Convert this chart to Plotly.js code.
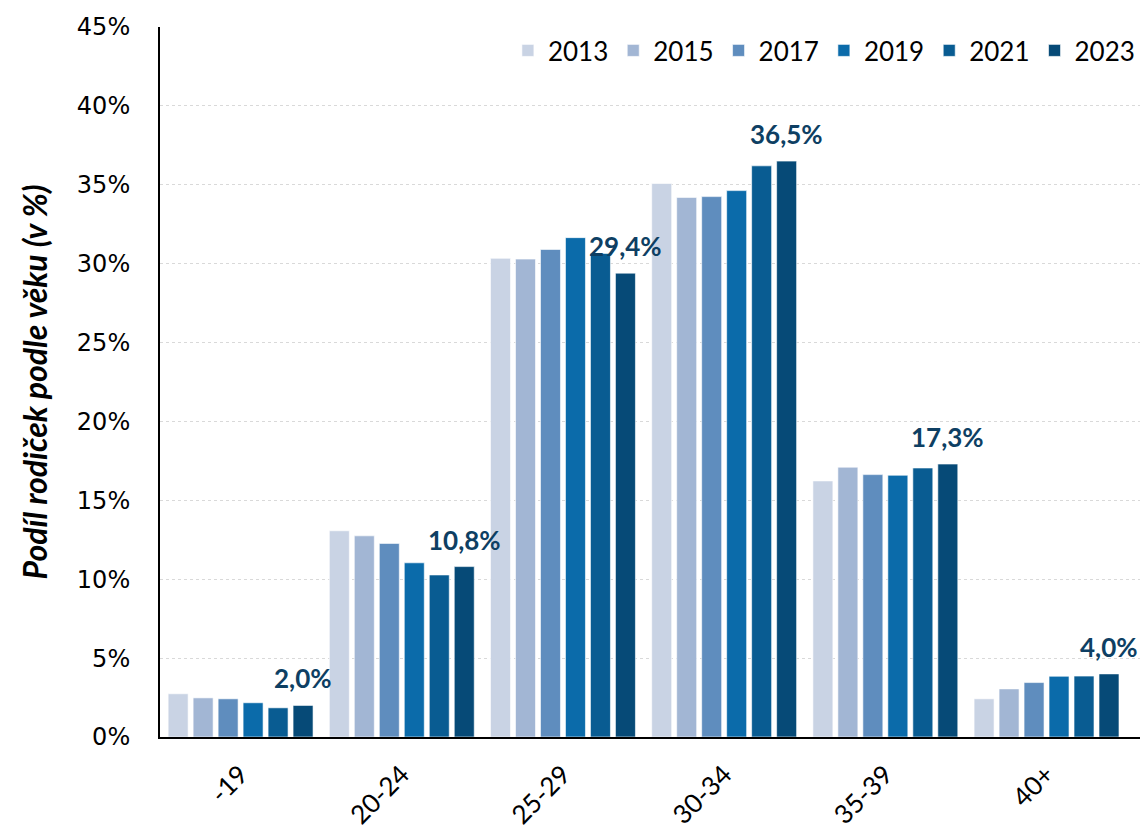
<!DOCTYPE html>
<html>
<head>
<meta charset="utf-8">
<script src="https://cdn.plot.ly/plotly-3.0.1.min.js"></script>
<style>html,body{margin:0;padding:0;background:#fff;}#chart{width:1145px;height:829px;}</style>
</head>
<body>
<div id="chart"></div>
<script>
const categories = ["-19", "20-24", "25-29", "30-34", "35-39", "40+"];
const years = ["2013", "2015", "2017", "2019", "2021", "2023"];
const v2013 = [2.74, 13.07, 30.34, 35.08, 16.23, 2.42];
const v2015 = [2.48, 12.75, 30.29, 34.20, 17.10, 3.05];
const v2017 = [2.42, 12.27, 30.90, 34.25, 16.63, 3.45];
const v2019 = [2.17, 11.04, 31.65, 34.63, 16.59, 3.85];
const v2021 = [1.85, 10.27, 30.65, 36.20, 17.05, 3.86];
const v2023 = [2.0, 10.8, 29.4, 36.5, 17.3, 4.0];
const colors = ["#C9D3E4", "#A2B6D4", "#5F8DBE", "#0B6BAA", "#095C92", "#064A77"];
const tickVals = [0, 5, 10, 15, 20, 25, 30, 35, 40, 45];
const tickText = ["0%", "5%", "10%", "15%", "20%", "25%", "30%", "35%", "40%", "45%"];

const series = [v2013, v2015, v2017, v2019, v2021, v2023];
const fmt = v => v.toFixed(1).replace(".", ",") + "%";

const BARGAP = 0.07;
const nS = series.length;
const slot = (1 - BARGAP) / nS;
const labelIdx = nS - 1;
const labelOffset = (labelIdx + 0.5) * slot - (1 - BARGAP) / 2;

const traces = series.map((vals, i) => ({
  type: "bar",
  name: years[i],
  x: categories,
  y: vals,
  marker: {color: colors[i], line: {color: "rgba(255,255,255,0.6)", width: 1}},
  hoverinfo: "skip"
}));

const annotations = series[labelIdx].map((v, k) => ({
  xref: "x", yref: "y",
  x: k + labelOffset, y: v,
  text: "<b>" + fmt(v) + "</b>",
  showarrow: false,
  xanchor: "center", yanchor: "bottom",
  yshift: 9,
  font: {family: "Lato, 'Open Sans', sans-serif", size: 26, color: "#0E3F63"}
}));

const layout = {
  width: 1145, height: 829,
  margin: {l: 160, r: 5, t: 27, b: 92},
  paper_bgcolor: "#fff", plot_bgcolor: "#fff",
  barmode: "group",
  bargap: BARGAP,
  bargroupgap: 0.2,
  showlegend: true,
  annotations: annotations,
  legend: {
    orientation: "h", x: 0.355, xanchor: "left", y: 1.0, yanchor: "top",
    font: {family: "Lato, 'Liberation Sans', sans-serif", size: 26, color: "#000"},
    traceorder: "normal", bgcolor: "rgba(0,0,0,0)"
  },
  xaxis: {
    type: "category",
    tickangle: -45,
    tickfont: {family: "Lato, 'Liberation Sans', sans-serif", size: 26, color: "#000"},
    showline: true, linecolor: "#000", linewidth: 2,
    ticks: "", showgrid: false,
    ticklabelstandoff: 10
  },
  yaxis: {
    range: [0, 45],
    tickvals: tickVals, ticktext: tickText,
    tickfont: {family: "'DejaVu Sans', Verdana, sans-serif", size: 24, color: "#000"},
    showline: true, linecolor: "#000", linewidth: 2,
    showgrid: true, gridcolor: "#D9D9D9", gridwidth: 1, griddash: "dot",
    ticks: "", ticklen: 0, zeroline: false,
    ticklabelstandoff: 23,
    title: {text: "<b><i>Podíl rodiček podle věku (v %)</i></b>", font: {family: "Lato, 'Open Sans', sans-serif", size: 32, color: "#000"}, standoff: 20}
  }
};

Plotly.newPlot("chart", traces, layout, {displayModeBar: false, staticPlot: true});
</script>
</body>
</html>
